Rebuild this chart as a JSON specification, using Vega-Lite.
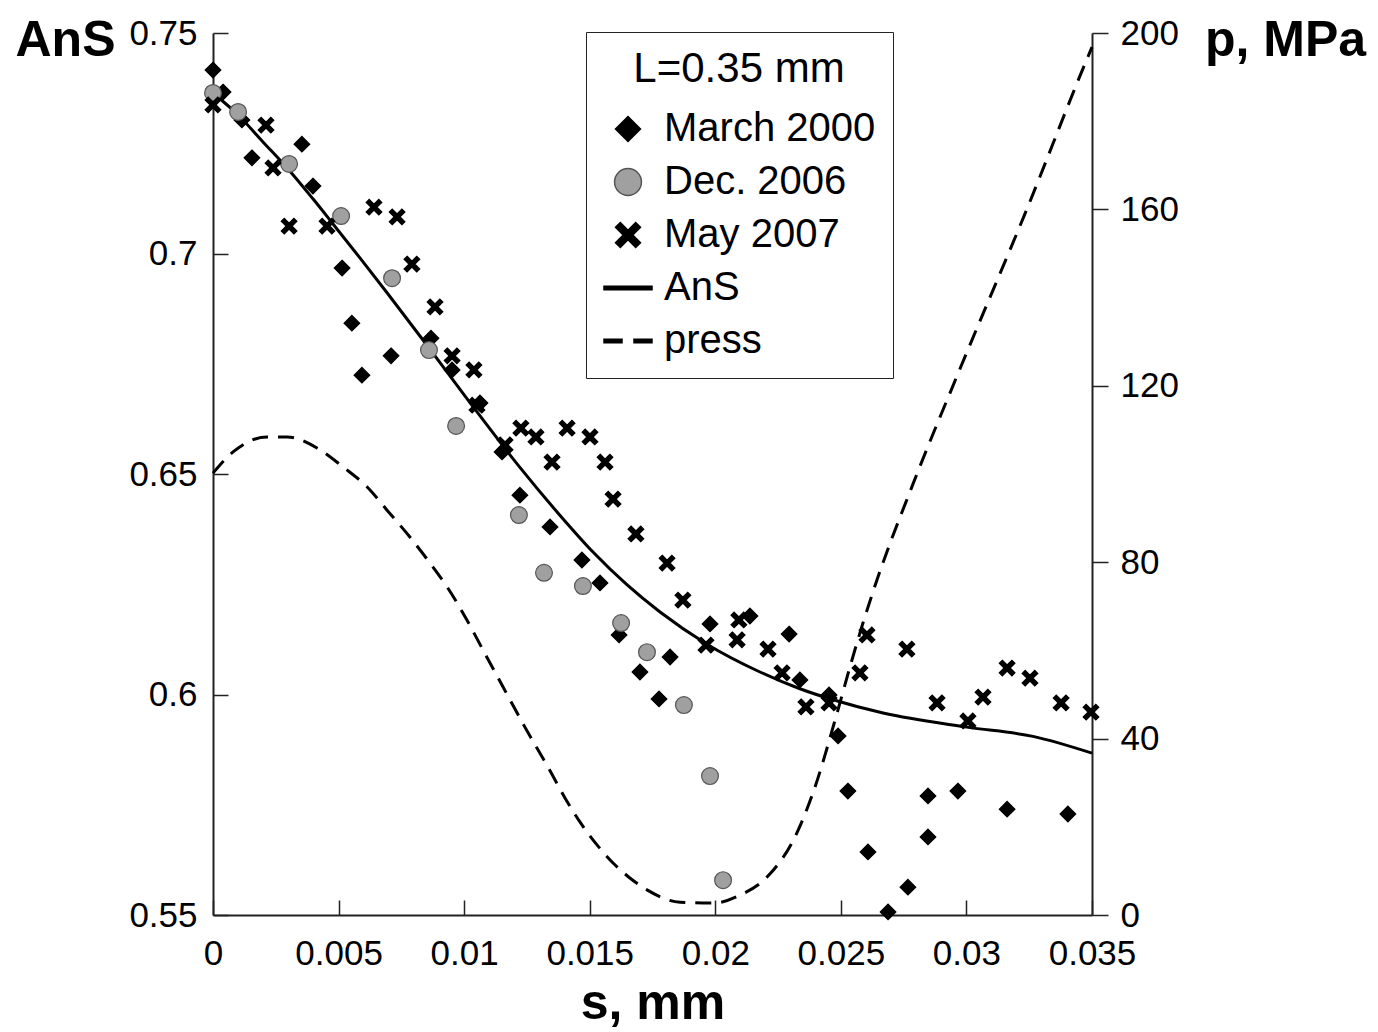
{
  "$schema": "https://vega.github.io/schema/vega-lite/v6.json",
  "width": 879,
  "height": 882,
  "autosize": {"type": "none"},
  "padding": {"left": 213, "top": 33, "right": 286, "bottom": 117},
  "background": "white",
  "config": {
    "view": {"stroke": null},
    "font": "Liberation Sans",
    "axis": {"grid": false, "domainColor": "#222", "domainWidth": 2, "tickColor": "#222", "tickWidth": 1.5, "labelColor": "#000", "titleColor": "#000", "labelFont": "Liberation Sans", "titleFont": "Liberation Sans", "labelFontSize": 35, "titleFontSize": 50, "titleFontWeight": "bold", "labelFlush": false, "labelOverlap": false}
  },
  "datasets": {
    "pts": [
      {"s": 0, "v": 0.7416, "series": "March 2000"},
      {"s": 0.0004, "v": 0.7366, "series": "March 2000"},
      {"s": 0.00115, "v": 0.7303, "series": "March 2000"},
      {"s": 0.00155, "v": 0.7217, "series": "March 2000"},
      {"s": 0.00354, "v": 0.7248, "series": "March 2000"},
      {"s": 0.00398, "v": 0.7153, "series": "March 2000"},
      {"s": 0.00514, "v": 0.6967, "series": "March 2000"},
      {"s": 0.00553, "v": 0.6842, "series": "March 2000"},
      {"s": 0.00593, "v": 0.6724, "series": "March 2000"},
      {"s": 0.00709, "v": 0.6768, "series": "March 2000"},
      {"s": 0.00868, "v": 0.6808, "series": "March 2000"},
      {"s": 0.00952, "v": 0.6736, "series": "March 2000"},
      {"s": 0.01063, "v": 0.6661, "series": "March 2000"},
      {"s": 0.01151, "v": 0.655, "series": "March 2000"},
      {"s": 0.01222, "v": 0.6452, "series": "March 2000"},
      {"s": 0.01342, "v": 0.638, "series": "March 2000"},
      {"s": 0.01469, "v": 0.6305, "series": "March 2000"},
      {"s": 0.01541, "v": 0.6253, "series": "March 2000"},
      {"s": 0.01617, "v": 0.6135, "series": "March 2000"},
      {"s": 0.017, "v": 0.6051, "series": "March 2000"},
      {"s": 0.01776, "v": 0.599, "series": "March 2000"},
      {"s": 0.0182, "v": 0.6085, "series": "March 2000"},
      {"s": 0.01979, "v": 0.616, "series": "March 2000"},
      {"s": 0.02138, "v": 0.6178, "series": "March 2000"},
      {"s": 0.02294, "v": 0.6137, "series": "March 2000"},
      {"s": 0.02337, "v": 0.6033, "series": "March 2000"},
      {"s": 0.02453, "v": 0.5999, "series": "March 2000"},
      {"s": 0.02489, "v": 0.5906, "series": "March 2000"},
      {"s": 0.02528, "v": 0.5781, "series": "March 2000"},
      {"s": 0.02608, "v": 0.5643, "series": "March 2000"},
      {"s": 0.02688, "v": 0.5507, "series": "March 2000"},
      {"s": 0.02767, "v": 0.5563, "series": "March 2000"},
      {"s": 0.02847, "v": 0.5677, "series": "March 2000"},
      {"s": 0.02847, "v": 0.577, "series": "March 2000"},
      {"s": 0.02966, "v": 0.5781, "series": "March 2000"},
      {"s": 0.03162, "v": 0.574, "series": "March 2000"},
      {"s": 0.03404, "v": 0.5729, "series": "March 2000"},
      {"s": 0, "v": 0.7364, "series": "Dec. 2006"},
      {"s": 0.001, "v": 0.7321, "series": "Dec. 2006"},
      {"s": 0.00303, "v": 0.7203, "series": "Dec. 2006"},
      {"s": 0.0051, "v": 0.7085, "series": "Dec. 2006"},
      {"s": 0.00713, "v": 0.6944, "series": "Dec. 2006"},
      {"s": 0.0086, "v": 0.6781, "series": "Dec. 2006"},
      {"s": 0.00968, "v": 0.6609, "series": "Dec. 2006"},
      {"s": 0.01218, "v": 0.6407, "series": "Dec. 2006"},
      {"s": 0.01318, "v": 0.6276, "series": "Dec. 2006"},
      {"s": 0.01473, "v": 0.6246, "series": "Dec. 2006"},
      {"s": 0.01625, "v": 0.6162, "series": "Dec. 2006"},
      {"s": 0.01728, "v": 0.6096, "series": "Dec. 2006"},
      {"s": 0.01875, "v": 0.5976, "series": "Dec. 2006"},
      {"s": 0.01979, "v": 0.5815, "series": "Dec. 2006"},
      {"s": 0.02031, "v": 0.5579, "series": "Dec. 2006"},
      {"s": 0, "v": 0.7337, "series": "May 2007"},
      {"s": 0.00211, "v": 0.7291, "series": "May 2007"},
      {"s": 0.00239, "v": 0.7194, "series": "May 2007"},
      {"s": 0.00303, "v": 0.7062, "series": "May 2007"},
      {"s": 0.00454, "v": 0.7062, "series": "May 2007"},
      {"s": 0.00641, "v": 0.7105, "series": "May 2007"},
      {"s": 0.00733, "v": 0.7083, "series": "May 2007"},
      {"s": 0.00792, "v": 0.6976, "series": "May 2007"},
      {"s": 0.00884, "v": 0.6879, "series": "May 2007"},
      {"s": 0.00952, "v": 0.6768, "series": "May 2007"},
      {"s": 0.01039, "v": 0.6736, "series": "May 2007"},
      {"s": 0.01051, "v": 0.6656, "series": "May 2007"},
      {"s": 0.01163, "v": 0.6566, "series": "May 2007"},
      {"s": 0.01226, "v": 0.6604, "series": "May 2007"},
      {"s": 0.01286, "v": 0.6584, "series": "May 2007"},
      {"s": 0.0135, "v": 0.6527, "series": "May 2007"},
      {"s": 0.0141, "v": 0.6604, "series": "May 2007"},
      {"s": 0.01501, "v": 0.6584, "series": "May 2007"},
      {"s": 0.01561, "v": 0.6527, "series": "May 2007"},
      {"s": 0.01593, "v": 0.6443, "series": "May 2007"},
      {"s": 0.01684, "v": 0.6364, "series": "May 2007"},
      {"s": 0.01808, "v": 0.6298, "series": "May 2007"},
      {"s": 0.01871, "v": 0.6214, "series": "May 2007"},
      {"s": 0.01963, "v": 0.6112, "series": "May 2007"},
      {"s": 0.02087, "v": 0.6124, "series": "May 2007"},
      {"s": 0.02094, "v": 0.6169, "series": "May 2007"},
      {"s": 0.0221, "v": 0.6103, "series": "May 2007"},
      {"s": 0.02266, "v": 0.6049, "series": "May 2007"},
      {"s": 0.02361, "v": 0.5972, "series": "May 2007"},
      {"s": 0.02453, "v": 0.5981, "series": "May 2007"},
      {"s": 0.02576, "v": 0.6049, "series": "May 2007"},
      {"s": 0.02604, "v": 0.6135, "series": "May 2007"},
      {"s": 0.02763, "v": 0.6103, "series": "May 2007"},
      {"s": 0.02883, "v": 0.5981, "series": "May 2007"},
      {"s": 0.03006, "v": 0.594, "series": "May 2007"},
      {"s": 0.03066, "v": 0.5994, "series": "May 2007"},
      {"s": 0.03162, "v": 0.606, "series": "May 2007"},
      {"s": 0.03253, "v": 0.6037, "series": "May 2007"},
      {"s": 0.03377, "v": 0.5981, "series": "May 2007"},
      {"s": 0.03496, "v": 0.596, "series": "May 2007"}
    ],
    "ans": [
      {"s": 0, "v": 0.7364}, {"s": 0.001, "v": 0.7314}, {"s": 0.00199, "v": 0.7253}, {"s": 0.00303, "v": 0.7189},
      {"s": 0.00398, "v": 0.7124}, {"s": 0.00478, "v": 0.7067}, {"s": 0.00585, "v": 0.699}, {"s": 0.00693, "v": 0.6911},
      {"s": 0.00852, "v": 0.6792}, {"s": 0.01023, "v": 0.6662}, {"s": 0.01222, "v": 0.6515}, {"s": 0.01382, "v": 0.6406},
      {"s": 0.01513, "v": 0.6323}, {"s": 0.01648, "v": 0.6249}, {"s": 0.0178, "v": 0.6187}, {"s": 0.01967, "v": 0.6114},
      {"s": 0.02178, "v": 0.6051}, {"s": 0.02337, "v": 0.6013}, {"s": 0.02469, "v": 0.5988}, {"s": 0.02668, "v": 0.5958},
      {"s": 0.03002, "v": 0.5926}, {"s": 0.03265, "v": 0.5905}, {"s": 0.035, "v": 0.5867}
    ],
    "press": [
      {"s": 0, "p": 100.2}, {"s": 0.0008, "p": 105.0}, {"s": 0.00215, "p": 108.4}, {"s": 0.00295, "p": 108.4},
      {"s": 0.00414, "p": 105.9}, {"s": 0.00518, "p": 101.6}, {"s": 0.00613, "p": 97.1}, {"s": 0.00693, "p": 91.8},
      {"s": 0.00784, "p": 85.7}, {"s": 0.00864, "p": 79.8}, {"s": 0.00932, "p": 74.4}, {"s": 0.01011, "p": 66.9},
      {"s": 0.01075, "p": 60.1}, {"s": 0.01155, "p": 51.7}, {"s": 0.01242, "p": 42.6}, {"s": 0.01342, "p": 32.7},
      {"s": 0.01402, "p": 26.5}, {"s": 0.01461, "p": 21.1}, {"s": 0.01529, "p": 15.9}, {"s": 0.01593, "p": 11.8},
      {"s": 0.0166, "p": 8.4}, {"s": 0.01728, "p": 5.7}, {"s": 0.0186, "p": 2.9}, {"s": 0.01991, "p": 2.7},
      {"s": 0.02098, "p": 4.5}, {"s": 0.02206, "p": 8.6}, {"s": 0.02325, "p": 18.6}, {"s": 0.02389, "p": 27.7},
      {"s": 0.02485, "p": 45.8}, {"s": 0.02536, "p": 56.2}, {"s": 0.02588, "p": 66.2}, {"s": 0.02644, "p": 76.0},
      {"s": 0.02787, "p": 97.7}, {"s": 0.02974, "p": 123.8}, {"s": 0.03241, "p": 160.1}, {"s": 0.0348, "p": 194.1},
      {"s": 0.035, "p": 196.8}
    ]
  },
  "layer": [
    {
      "layer": [
        {
          "data": {"name": "ans"},
          "mark": {"type": "line", "color": "#000", "strokeWidth": 3, "interpolate": "monotone"},
          "encoding": {
            "x": {"field": "s", "type": "quantitative", "scale": {"domain": [0, 0.035], "nice": false, "zero": false},
              "axis": {"title": "s, mm", "values": [0, 0.005, 0.01, 0.015, 0.02, 0.025, 0.03, 0.035], "format": "~g", "tickSize": -15, "labelPadding": 36, "titleY": 103, "titleBaseline": "alphabetic"}},
            "y": {"field": "v", "type": "quantitative", "scale": {"domain": [0.55, 0.75], "nice": false, "zero": false},
              "axis": {"title": "AnS", "orient": "left", "values": [0.55, 0.6, 0.65, 0.7, 0.75], "format": "~g", "tickSize": -15, "labelPadding": 31, "titleAngle": 0, "titleX": -148, "titleY": 22, "titleAlign": "center", "titleBaseline": "alphabetic"}}
          }
        },
        {
          "data": {"name": "pts"},
          "mark": {"type": "point", "filled": true, "opacity": 1, "size": 900, "strokeWidth": 1.2},
          "encoding": {
            "x": {"field": "s", "type": "quantitative"},
            "y": {"field": "v", "type": "quantitative"},
            "shape": {"field": "series", "type": "nominal",
              "scale": {"domain": ["March 2000", "Dec. 2006", "May 2007", "AnS", "press"],
                "range": ["M0,-0.52L0.52,0L0,0.52L-0.52,0Z", "M-0.56,0A0.56,0.56,0,1,0,0.56,0A0.56,0.56,0,1,0,-0.56,0Z", "M-0.32,-0.52L0,-0.2L0.32,-0.52L0.52,-0.32L0.2,0L0.52,0.32L0.32,0.52L0,0.2L-0.32,0.52L-0.52,0.32L-0.2,0L-0.52,-0.32Z", "M-1,-0.07H1V0.07H-1Z", "M-1,-0.07H-0.25V0.07H-1ZM0.25,-0.07H1V0.07H0.25Z"]},
              "legend": {"title": "L=0.35 mm", "orient": "none", "legendX": 373, "legendY": -1, "titleFontSize": 42, "titleFontWeight": "normal", "titleColor": "#000", "titleAnchor": "middle", "titlePadding": 13, "titleLimit": 600, "labelFontSize": 40, "labelColor": "#000", "symbolSize": 2304, "symbolStrokeWidth": 1.5, "strokeColor": "#222", "fillColor": "white", "padding": 17, "rowPadding": 8, "labelOffset": 11, "labelLimit": 600}},
            "fill": {"field": "series", "type": "nominal",
              "scale": {"domain": ["March 2000", "Dec. 2006", "May 2007", "AnS", "press"], "range": ["#000", "#a0a0a0", "#000", "#000", "#000"]},
              "legend": {"title": "L=0.35 mm"}},
            "stroke": {"field": "series", "type": "nominal",
              "scale": {"domain": ["March 2000", "Dec. 2006", "May 2007", "AnS", "press"], "range": ["#000", "#555", "#000", "#000", "#000"]},
              "legend": {"title": "L=0.35 mm"}}
          }
        }
      ]
    },
    {
      "data": {"name": "press"},
      "mark": {"type": "line", "color": "#000", "strokeWidth": 3, "strokeDash": [16, 10], "interpolate": "monotone"},
      "encoding": {
        "x": {"field": "s", "type": "quantitative"},
        "y": {"field": "p", "type": "quantitative", "scale": {"domain": [0, 200], "nice": false},
          "axis": {"title": "p, MPa", "orient": "right", "values": [0, 40, 80, 120, 160, 200], "tickSize": 16, "labelPadding": 12, "titleAngle": 0, "titleX": 193, "titleY": 22, "titleAlign": "center", "titleBaseline": "alphabetic"}}
      }
    }
  ],
  "resolve": {"scale": {"y": "independent"}}
}
